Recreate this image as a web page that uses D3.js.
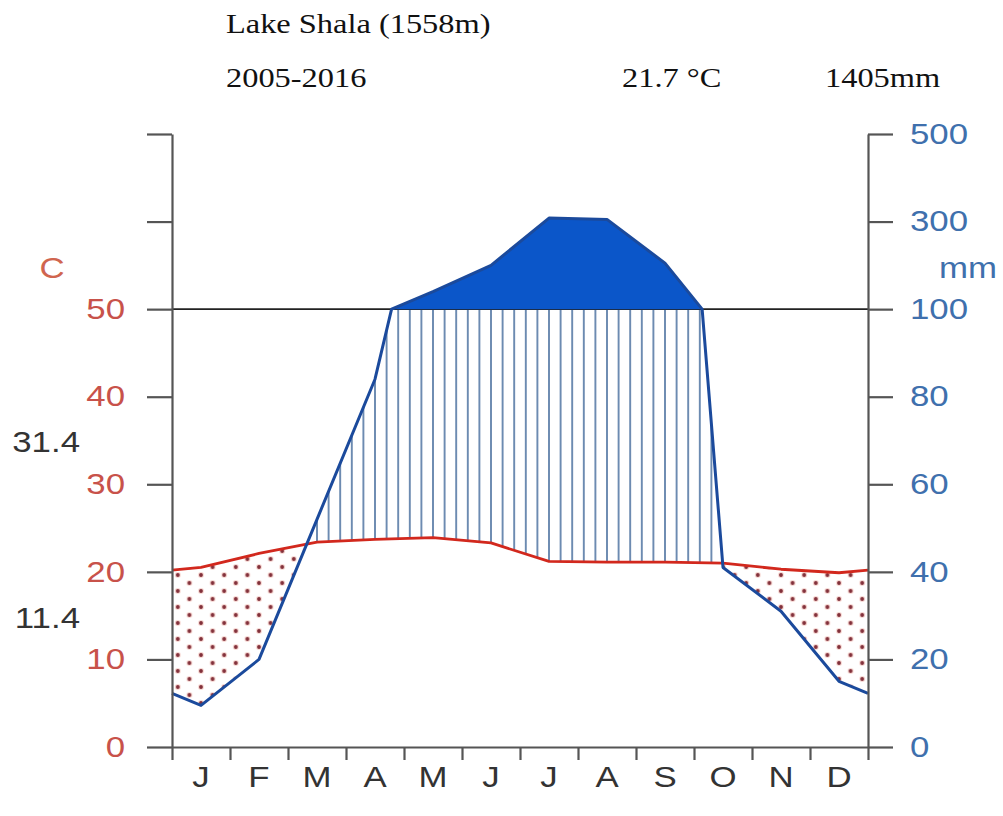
<!DOCTYPE html>
<html>
<head>
<meta charset="utf-8">
<script src="https://cdn.jsdelivr.net/npm/d3@7"></script>
<style>
  html, body { margin: 0; padding: 0; background: #fff; }
  svg { display: block; }
</style>
</head>
<body>
<svg id="chart" width="1003" height="816"></svg>
<script>
// Walter–Lieth climate diagram, Lake Shala 2005-2016
const months = ['J', 'F', 'M', 'A', 'M', 'J', 'J', 'A', 'S', 'O', 'N', 'D'];
const temperature = [20.5, 22.1, 23.4, 23.7, 23.9, 23.3, 21.2, 21.1, 21.1, 21.0, 20.3, 19.9]; // °C
const precipitation = [9.5, 20, 52, 84, 140, 200, 308, 305, 205, 41, 31, 15];            // mm
const tempTicks = [0, 10, 20, 30, 40, 50, 60, 70];
const tempLabels = [0, 10, 20, 30, 40, 50];
const precipTicks = [0, 20, 40, 60, 80, 100, 300, 500];
const station = 'Lake Shala (1558m)';
const period = '2005-2016';
const meanTemp = '21.7 °C';
const totalPrecip = '1405mm';
const maxWarm = '31.4';
const minCold = '11.4';

const svg = d3.select('#chart');
const plotLeft = 172, plotRight = 868, plotBottom = 747, plotTop = 134;
const STRETCH = 1.2;

const x = d3.scaleLinear().domain([0, 12]).range([plotLeft, plotRight]);
const yT = d3.scaleLinear().domain([0, 70]).range([plotBottom, plotTop]);
// precipitation: 2 mm per °C up to 100 mm, compressed 1:10 above
const yP = d3.scaleLinear().domain([0, 100, 500]).range([plotBottom, yT(50), yT(70)]);

// series at month midpoints, closed at the edges with the Dec/Jan mean
function extend(vals) {
  const edge = (vals[0] + vals[vals.length - 1]) / 2;
  const pts = [{ m: 0, v: edge }];
  vals.forEach((v, i) => pts.push({ m: i + 0.5, v }));
  pts.push({ m: 12, v: edge });
  return pts;
}
const tPts = extend(temperature);
let pPts = extend(precipitation);
// split precipitation segments where they cross 100 mm so the compressed scale stays linear
(function () {
  const out = [];
  for (let i = 0; i < pPts.length; i++) {
    out.push(pPts[i]);
    if (i < pPts.length - 1) {
      const a = pPts[i], b = pPts[i + 1];
      if ((a.v - 100) * (b.v - 100) < 0) {
        const f = (100 - a.v) / (b.v - a.v);
        out.push({ m: a.m + f * (b.m - a.m), v: 100 });
      }
    }
  }
  pPts = out;
})();

const defs = svg.append('defs');

// staggered dot pattern for the dry season
const dotW = (plotRight - plotLeft) / 60, dotH = 16;
const dots = defs.append('pattern').attr('id', 'dots').attr('patternUnits', 'userSpaceOnUse')
  .attr('x', plotLeft).attr('y', plotBottom).attr('width', dotW * 2).attr('height', dotH);
[[dotW * 0.5, 4], [dotW * 1.5, 12]].forEach(([cx, cy]) => {
  dots.append('circle').attr('cx', cx).attr('cy', cy).attr('r', 3).attr('fill', '#f4c9c2').attr('opacity', 0.7);
  dots.append('circle').attr('cx', cx).attr('cy', cy).attr('r', 1.9).attr('fill', '#82303a');
});

// vertical hatching for the humid season
const hatchW = (plotRight - plotLeft) / 60;
defs.append('pattern').attr('id', 'hatch').attr('patternUnits', 'userSpaceOnUse')
  .attr('x', plotLeft).attr('y', 0).attr('width', hatchW).attr('height', 10)
  .append('line').attr('x1', hatchW / 2).attr('x2', hatchW / 2).attr('y1', 0).attr('y2', 10)
  .attr('stroke', '#6a89b0').attr('stroke-width', 1.9);

function clip(id, y0fn, y1fn, pts) {
  defs.append('clipPath').attr('id', id).append('path')
    .attr('d', d3.area().x(d => x(d.m)).y0(y0fn).y1(y1fn)(pts));
}
clip('belowTemp', () => plotBottom, d => yT(d.v), tPts);
clip('aboveTemp', () => 0, d => yT(d.v), tPts);
clip('abovePrecip', () => 0, d => yP(d.v), pPts);
clip('belowPrecipCap', () => plotBottom, d => yP(Math.min(d.v, 100)), pPts);

// dry season (precipitation below temperature)
svg.append('g').attr('clip-path', 'url(#abovePrecip)')
  .append('rect').attr('clip-path', 'url(#belowTemp)')
  .attr('x', plotLeft).attr('y', plotTop).attr('width', plotRight - plotLeft).attr('height', plotBottom - plotTop)
  .attr('fill', 'url(#dots)');

// humid season (precipitation above temperature, up to 100 mm)
svg.append('g').attr('clip-path', 'url(#aboveTemp)')
  .append('rect').attr('clip-path', 'url(#belowPrecipCap)')
  .attr('x', plotLeft).attr('y', plotTop).attr('width', plotRight - plotLeft).attr('height', plotBottom - plotTop)
  .attr('fill', 'url(#hatch)');

// 100 mm reference line
svg.append('line').attr('x1', plotLeft).attr('x2', plotRight).attr('y1', yT(50)).attr('y2', yT(50))
  .attr('stroke', '#222').attr('stroke-width', 1.7);

// perhumid season (above 100 mm)
svg.append('path')
  .attr('d', d3.area().x(d => x(d.m)).y0(yT(50)).y1(d => yP(Math.max(d.v, 100)))(pPts))
  .attr('fill', '#0b56c9');

// curves
svg.append('path').attr('d', d3.line().x(d => x(d.m)).y(d => yT(d.v))(tPts))
  .attr('fill', 'none').attr('stroke', '#d2281d').attr('stroke-width', 2.8).attr('stroke-linejoin', 'round');
svg.append('path').attr('d', d3.line().x(d => x(d.m)).y(d => yP(d.v))(pPts))
  .attr('fill', 'none').attr('stroke', '#1b4a9c').attr('stroke-width', 3).attr('stroke-linejoin', 'round');

const sans = 'Liberation Sans, Arial, sans-serif';
function styleAxis(g, color) {
  g.select('.domain').attr('stroke', '#555').attr('stroke-width', 2.2);
  g.selectAll('.tick line').attr('stroke', '#555').attr('stroke-width', 2.2);
  g.selectAll('.tick text').attr('fill', color).attr('font-family', sans).attr('font-size', 29);
}

// left temperature axis
const axL = svg.append('g').attr('transform', `translate(${plotLeft},0)`)
  .call(d3.axisLeft(yT).tickValues(tempTicks).tickSize(25).tickSizeOuter(0).tickPadding(22)
    .tickFormat(d => tempLabels.includes(d) ? d : ''));
styleAxis(axL, '#c8524a');

// right precipitation axis
const axR = svg.append('g').attr('transform', `translate(${plotRight},0)`)
  .call(d3.axisRight(yP).tickValues(precipTicks).tickSize(25).tickSizeOuter(0).tickPadding(17));
styleAxis(axR, '#3f70ad');

// month axis
const axB = svg.append('g').attr('transform', `translate(0,${plotBottom})`)
  .call(d3.axisBottom(x).tickValues(d3.range(0, 13)).tickSize(13).tickSizeOuter(0).tickFormat(''));
styleAxis(axB, '#333');

svg.append('g').selectAll('text').data(months).join('text')
  .attr('x', (d, i) => x(i + 0.5)).attr('y', 787)
  .attr('text-anchor', 'middle').attr('font-family', sans)
  .attr('font-size', 29).attr('fill', '#333').attr('class', 'stretch').text(d => d);

// axis units and extremes
svg.append('text').attr('x', 52).attr('y', 278).attr('text-anchor', 'middle').attr('font-family', sans)
  .attr('font-size', 29).attr('fill', '#d0654f').attr('class', 'stretch').text('C');
svg.append('text').attr('x', 968).attr('y', 278).attr('text-anchor', 'middle').attr('font-family', sans)
  .attr('font-size', 29).attr('fill', '#3f70ad').attr('class', 'stretch').text('mm');
svg.append('text').attr('x', 80).attr('y', 452).attr('text-anchor', 'end').attr('font-family', sans)
  .attr('font-size', 29).attr('fill', '#333').attr('class', 'stretch').text(maxWarm);
svg.append('text').attr('x', 80).attr('y', 628).attr('text-anchor', 'end').attr('font-family', sans)
  .attr('font-size', 29).attr('fill', '#333').attr('class', 'stretch').text(minCold);

// header
const serif = 'Liberation Serif, Times New Roman, serif';
[[station, 226, 33], [period, 226, 87], [meanTemp, 622, 87], [totalPrecip, 825, 87]].forEach(([t, tx, ty]) => {
  svg.append('text').attr('x', tx).attr('y', ty).attr('font-family', serif).attr('font-size', 27)
    .attr('fill', '#111').attr('class', 'stretch').text(t);
});

// widen glyphs to the diagram's proportions
svg.selectAll('.stretch, .tick text').each(function () {
  const w = this.getComputedTextLength();
  if (w > 0) {
    this.setAttribute('textLength', w * STRETCH);
    this.setAttribute('lengthAdjust', 'spacingAndGlyphs');
  }
});
</script>
</body>
</html>
